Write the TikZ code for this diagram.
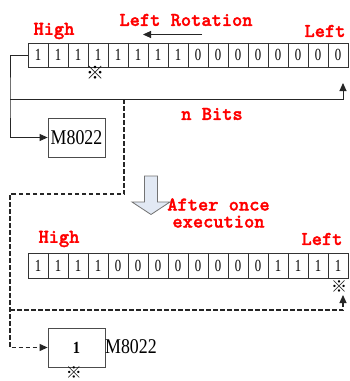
\documentclass[tikz,border=0pt]{standalone}
\usepackage{fontspec}
\usetikzlibrary{arrows.meta}
\newfontfamily\cellfont[FakeStretch=0.75]{Liberation Serif}
\newfontfamily\boxfont[FakeStretch=0.85]{Liberation Serif}
\newfontfamily\symfont{Noto Sans CJK SC}
\newfontfamily\redfont[FakeBold=1.6]{lmmonolt10-bold.otf}
\definecolor{arrowfill}{HTML}{E2E9F4}
\tikzset{
  cell/.style={draw=black!80, line width=0.7pt, minimum width=20pt, minimum height=24pt, inner sep=0pt, font=\cellfont\fontsize{17}{17}\selectfont},
  lbl/.style={text=red, inner sep=0pt, font=\redfont\fontsize{19.5}{17}\selectfont, align=center},
  regbox/.style={draw=black!70, line width=0.8pt, minimum width=57pt, minimum height=39pt, inner sep=0pt},
  refmark/.style={inner sep=0pt, font=\symfont\fontsize{18}{18}\selectfont},
  conn/.style={line width=0.9pt, draw=black!85, -{Triangle[length=8pt,width=7pt]}},
  dconn/.style={line width=1.1pt, draw=black!85, dash pattern=on 4.5pt off 2.5pt, -{Triangle[length=8pt,width=7pt]}}
}
\begin{document}
\begin{tikzpicture}[x=1pt, y=-1pt]
\useasboundingbox (0,0) rectangle (350,381);
\fill[white] (0,0) rectangle (350,381);
% top register
\foreach \v [count=\i] in {1,1,1,1,1,1,1,1,0,0,0,0,0,0,0,0}
  \node[cell] (t\i) at ({18+20*\i}, 55) {\v};
% bottom register
\foreach \v [count=\i] in {1,1,1,1,0,0,0,0,0,0,0,0,1,1,1,1}
  \node[cell, minimum height=25pt] (b\i) at ({18+20*\i}, 265.5) {\v};
% boxes
\node[regbox, font=\boxfont\fontsize{21}{21}\selectfont] (m1) at (76.5,137.5) {M8022};
\node[regbox, font=\boxfont\bfseries\fontsize{17}{17}\selectfont] (m2) at (76.5,347.5) {1};
\node[inner sep=0pt, anchor=west, font=\boxfont\fontsize{21}{21}\selectfont] (m2l) at (105,346.5) {M8022};
% labels
\node[lbl] (lr) at (186,20) {Left Rotation};
\node[lbl] (h1) at (54,31) {High};
\node[lbl] (l1) at (325,31) {Left};
\node[lbl] (nb) at (212,114) {n Bits};
\node[lbl] (ae) at (218.5,213) {After once\\execution};
\node[lbl] (h2) at (59,239) {High};
\node[lbl] (l2) at (322,239) {Left};
% reference marks
\node[refmark] (x1) at (95,72.5) {※};
\node[refmark, font=\symfont\fontsize{16}{16}\selectfont] (x2) at (339,287) {※};
\node[refmark, font=\symfont\fontsize{16}{16}\selectfont] (x3) at (74,372.5) {※};
% rotation arrow
\coordinate (ra1) at (202,34.5);
\coordinate (ra2) at (143,34.5);
\draw[conn] (ra1) -- (ra2);
% solid connectors
\coordinate (sA) at (10,99);
\coordinate (sTip) at (343,83);
\draw[conn] (t1.west) -| (sA) |- (m1.west);
\draw[conn] (sA) -| (sTip);
% dashed connectors
\coordinate (dA) at (124,99);
\coordinate (dB) at (10,194);
\coordinate (dC) at (10,310);
\coordinate (dTip) at (343,295);
\draw[dconn] (dA) |- (dB) |- (m2.west);
\draw[dconn] (dC) -| (dTip);
% block arrow
\draw[fill=arrowfill, draw=black!55, line width=0.8pt, line join=miter]
  (144.5,176) -- (157.5,176) -- (157.5,202) -- (170,202) -- (151,214.5) -- (132,202) -- (144.5,202) -- cycle;
\end{tikzpicture}
\end{document}
